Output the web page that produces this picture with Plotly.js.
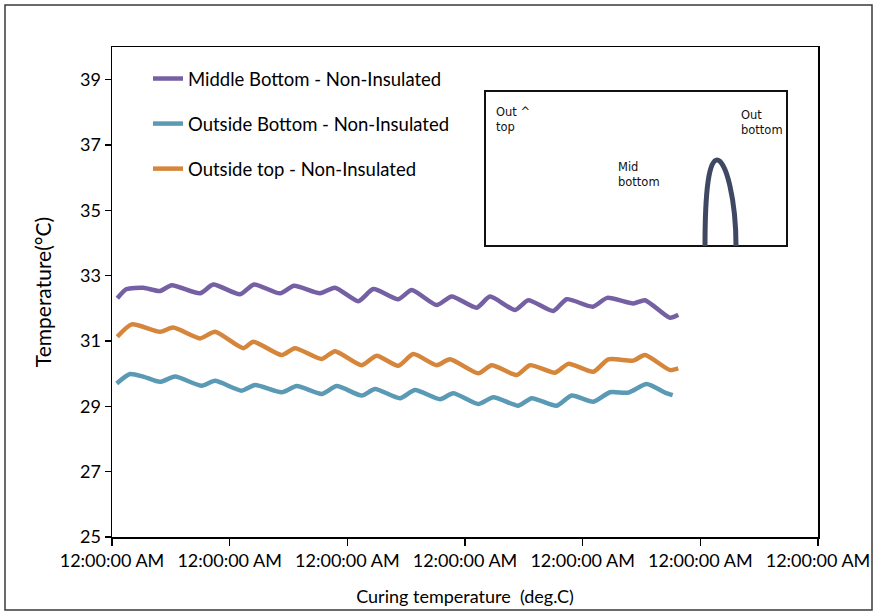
<!DOCTYPE html>
<html>
<head>
<meta charset="utf-8">
<script src="https://cdn.plot.ly/plotly-3.0.1.min.js"></script>
<style>html,body{margin:0;padding:0;background:#fff}#chart{width:876px;height:613px}</style>
</head>
<body>
<div id="chart"></div>
<script>
// Series names
var seriesNames = ["Middle Bottom - Non-Insulated", "Outside Bottom - Non-Insulated", "Outside top - Non-Insulated"];

// Time offsets (hours from start) and temperatures (°C)
var midBottomHours = [1.08,3.0,6.38,9.79,12.18,17.95,20.66,26.11,28.96,34.27,37.12,42.42,45.48,50.24,53.30,58.39,61.13,66.22,69.28,74.38,77.10,82.20,84.91,90.01,92.74,98.04,101.02,106.32,108.71,113.81,115.50];
var midBottomTemp  = [32.31,32.59,32.63,32.53,32.71,32.46,32.73,32.43,32.73,32.46,32.69,32.46,32.63,32.22,32.59,32.28,32.56,32.10,32.36,32.02,32.36,31.95,32.25,31.92,32.28,32.05,32.32,32.15,32.25,31.71,31.80];

var outBottomHours = [0.96,3.67,6.38,9.79,12.85,18.30,21.01,26.45,29.17,34.61,37.67,42.77,45.83,50.93,53.64,58.74,61.80,66.90,69.61,74.71,77.77,82.87,85.60,90.70,93.76,98.17,101.57,105.31,109.06,112.79,114.36];
var outBottomTemp  = [29.70,29.99,29.91,29.75,29.91,29.63,29.78,29.48,29.65,29.43,29.62,29.38,29.62,29.33,29.53,29.25,29.50,29.22,29.40,29.07,29.28,29.02,29.25,29.02,29.33,29.14,29.43,29.42,29.68,29.42,29.34];

var outTopHours = [1.08,4.02,9.79,12.50,17.95,21.01,26.78,28.82,34.61,37.32,42.77,45.48,50.93,53.99,58.39,61.46,66.22,68.94,74.71,77.45,82.54,85.26,90.36,93.07,98.17,101.23,106.32,108.71,113.81,115.50];
var outTopTemp  = [31.13,31.51,31.28,31.41,31.08,31.28,30.78,30.98,30.57,30.78,30.45,30.69,30.26,30.55,30.24,30.60,30.26,30.44,30.01,30.26,29.96,30.26,30.03,30.30,30.06,30.44,30.40,30.57,30.11,30.16];

// Axis tick values
var yTicks = [25,27,29,31,33,35,37,39];

var startMs = Date.UTC(2013,0,1,0,0,0);
function toDate(h){
  return new Date(startMs + h*3600000).toISOString().replace('T',' ').replace('Z','');
}

var colors = ["#7560a3", "#5a9ab5", "#d5863b"];
var FONT = "Lato, 'Open Sans', sans-serif";

function mk(name, hrs, vals, color, grp){
  return {
    type: 'scatter', mode: 'lines', name: name, legendgroup: grp,
    x: hrs.map(toDate), y: vals,
    line: {color: color, width: 4.5, shape: 'spline', smoothing: 0.6}
  };
}

var data = [
  mk(seriesNames[0], midBottomHours, midBottomTemp, colors[0], 'a'),
  mk(seriesNames[1], outBottomHours, outBottomTemp, colors[1], 'b'),
  mk(seriesNames[2], outTopHours, outTopTemp, colors[2], 'c')
];

// pixel -> paper helpers for decorative elements
var L = 112, R = 818, T = 47, B = 537;
function px(x){ return (x - L)/(R - L); }
function py(y){ return (B - y)/(B - T); }

var layout = {
  width: 876, height: 613,
  margin: {l: L, r: 876 - R, t: T, b: 613 - B},
  paper_bgcolor: '#fff', plot_bgcolor: '#fff',
  font: {family: FONT, size: 18, color: '#000'},
  showlegend: true,
  legend: {
    x: px(148), y: py(60), xanchor: 'left', yanchor: 'top',
    bgcolor: 'rgba(0,0,0,0)', font: {family: FONT, size: 18.5, color: '#000'},
    tracegroupgap: 18, traceorder: 'grouped'
  },
  xaxis: {
    type: 'date',
    range: [toDate(0), toDate(144)],
    tick0: toDate(0), dtick: 86400000,
    tickformat: '%I:%M:%S %p',
    showgrid: false, zeroline: false,
    showline: true, linecolor: '#000', linewidth: 1.5, mirror: true,
    ticks: 'outside', ticklen: 7, tickcolor: '#000', tickwidth: 1.5,
    tickfont: {family: FONT, size: 18, color: '#000'},
    title: {text: 'Curing temperature  (deg.C)', font: {family: FONT, size: 18, color: '#000'}, standoff: 20}
  },
  yaxis: {
    range: [25, 40],
    tickvals: yTicks, ticktext: yTicks.map(String),
    showgrid: false, zeroline: false,
    showline: true, linecolor: '#000', linewidth: 1.5, mirror: true,
    ticks: 'outside', ticklen: 6, tickcolor: '#000', tickwidth: 1.5,
    tickfont: {family: FONT, size: 18, color: '#000'},
    title: {text: 'Temperature(°C)', font: {family: FONT, size: 21, color: '#000'}, standoff: 22}
  },
  shapes: [
    {type: 'rect', xref: 'paper', yref: 'paper', x0: px(5), x1: px(872), y0: py(610), y1: py(5),
     line: {color: '#3a3a3a', width: 1.5}, fillcolor: 'rgba(0,0,0,0)', layer: 'below'},
    {type: 'rect', xref: 'paper', yref: 'paper', x0: px(485), x1: px(787), y0: py(246), y1: py(91),
     line: {color: '#111', width: 2}, fillcolor: '#fff'},
    {type: 'path', xref: 'paper', yref: 'paper',
     path: 'M ' + px(705) + ',' + py(246) + ' C ' + px(705) + ',' + py(190) + ' ' + px(709) + ',' + py(160) + ' ' + px(717) + ',' + py(160) +
           ' C ' + px(726) + ',' + py(160) + ' ' + px(736) + ',' + py(200) + ' ' + px(736) + ',' + py(246),
     line: {color: '#3f4862', width: 5}}
  ],
  annotations: [
    {xref: 'paper', yref: 'paper', x: px(494), y: py(103), xanchor: 'left', yanchor: 'top', align: 'left', showarrow: false,
     text: 'Out ^<br>top', font: {family: "'DejaVu Sans', sans-serif", size: 11.5, color: '#111'}},
    {xref: 'paper', yref: 'paper', x: px(739), y: py(106), xanchor: 'left', yanchor: 'top', align: 'left', showarrow: false,
     text: 'Out<br>bottom', font: {family: "'DejaVu Sans', sans-serif", size: 11.5, color: '#111'}},
    {xref: 'paper', yref: 'paper', x: px(616), y: py(158), xanchor: 'left', yanchor: 'top', align: 'left', showarrow: false,
     text: 'Mid<br>bottom', font: {family: "'DejaVu Sans', sans-serif", size: 11.5, color: '#111'}}
  ]
};

Plotly.newPlot('chart', data, layout, {displayModeBar: false, staticPlot: true});
</script>
</body>
</html>
